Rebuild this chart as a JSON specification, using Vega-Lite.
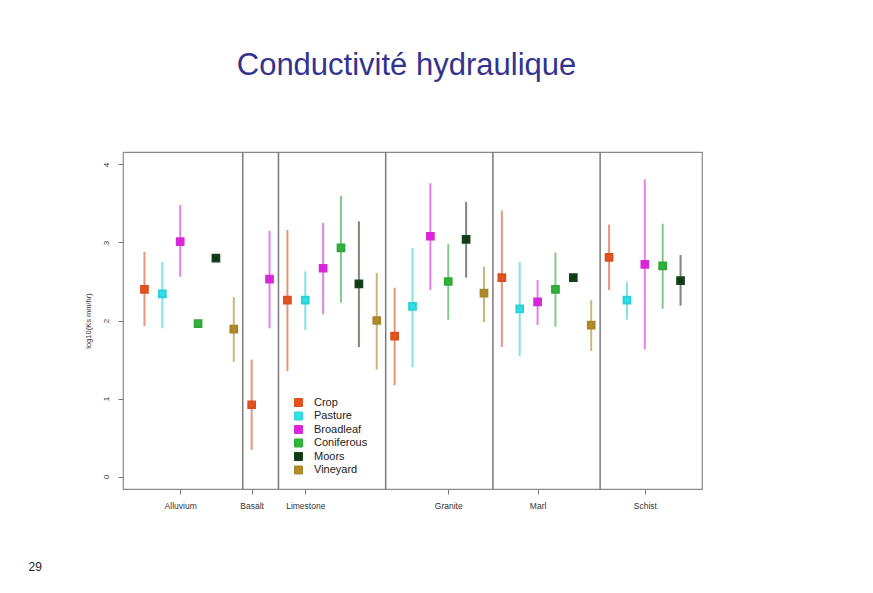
{
  "$schema": "https://vega.github.io/schema/vega-lite/v6.json",
  "width": 579,
  "height": 337,
  "autosize": {"type": "none"},
  "padding": {"left": 123, "top": 152, "right": 171, "bottom": 104},
  "background": "white",
  "title": {"text": "Conductivité hydraulique", "font": "Liberation Sans", "fontSize": 31, "fontWeight": "normal", "color": "#33338f", "anchor": "middle", "dx": -6, "offset": 69},
  "config": {"view": {"stroke": "#8a8a8a", "strokeWidth": 1.2}, "font": "Liberation Sans"},
  "datasets": {
    "pts": [
      {"geology": "Alluvium", "cover": "Crop", "pos": 1, "mean": 2.40, "lo": 1.93, "hi": 2.88},
      {"geology": "Alluvium", "cover": "Pasture", "pos": 2, "mean": 2.34, "lo": 1.90, "hi": 2.75},
      {"geology": "Alluvium", "cover": "Broadleaf", "pos": 3, "mean": 3.01, "lo": 2.56, "hi": 3.48},
      {"geology": "Alluvium", "cover": "Coniferous", "pos": 4, "mean": 1.96, "lo": null, "hi": null},
      {"geology": "Alluvium", "cover": "Moors", "pos": 5, "mean": 2.80, "lo": null, "hi": null},
      {"geology": "Alluvium", "cover": "Vineyard", "pos": 6, "mean": 1.89, "lo": 1.47, "hi": 2.30},
      {"geology": "Basalt", "cover": "Crop", "pos": 7, "mean": 0.92, "lo": 0.34, "hi": 1.50},
      {"geology": "Basalt", "cover": "Broadleaf", "pos": 8, "mean": 2.53, "lo": 1.90, "hi": 3.15},
      {"geology": "Limestone", "cover": "Crop", "pos": 9, "mean": 2.26, "lo": 1.35, "hi": 3.16},
      {"geology": "Limestone", "cover": "Pasture", "pos": 10, "mean": 2.26, "lo": 1.88, "hi": 2.63},
      {"geology": "Limestone", "cover": "Broadleaf", "pos": 11, "mean": 2.67, "lo": 2.08, "hi": 3.25},
      {"geology": "Limestone", "cover": "Coniferous", "pos": 12, "mean": 2.93, "lo": 2.23, "hi": 3.60},
      {"geology": "Limestone", "cover": "Moors", "pos": 13, "mean": 2.47, "lo": 1.66, "hi": 3.27},
      {"geology": "Limestone", "cover": "Vineyard", "pos": 14, "mean": 2.00, "lo": 1.37, "hi": 2.61},
      {"geology": "Granite", "cover": "Crop", "pos": 15, "mean": 1.80, "lo": 1.17, "hi": 2.42},
      {"geology": "Granite", "cover": "Pasture", "pos": 16, "mean": 2.18, "lo": 1.40, "hi": 2.93},
      {"geology": "Granite", "cover": "Broadleaf", "pos": 17, "mean": 3.08, "lo": 2.39, "hi": 3.76},
      {"geology": "Granite", "cover": "Coniferous", "pos": 18, "mean": 2.50, "lo": 2.01, "hi": 2.98},
      {"geology": "Granite", "cover": "Moors", "pos": 19, "mean": 3.04, "lo": 2.55, "hi": 3.52},
      {"geology": "Granite", "cover": "Vineyard", "pos": 20, "mean": 2.35, "lo": 1.98, "hi": 2.69},
      {"geology": "Marl", "cover": "Crop", "pos": 21, "mean": 2.55, "lo": 1.66, "hi": 3.41},
      {"geology": "Marl", "cover": "Pasture", "pos": 22, "mean": 2.15, "lo": 1.54, "hi": 2.75},
      {"geology": "Marl", "cover": "Broadleaf", "pos": 23, "mean": 2.24, "lo": 1.94, "hi": 2.52},
      {"geology": "Marl", "cover": "Coniferous", "pos": 24, "mean": 2.40, "lo": 1.92, "hi": 2.87},
      {"geology": "Marl", "cover": "Moors", "pos": 25, "mean": 2.55, "lo": null, "hi": null},
      {"geology": "Marl", "cover": "Vineyard", "pos": 26, "mean": 1.94, "lo": 1.61, "hi": 2.26},
      {"geology": "Schist", "cover": "Crop", "pos": 27, "mean": 2.81, "lo": 2.39, "hi": 3.23},
      {"geology": "Schist", "cover": "Pasture", "pos": 28, "mean": 2.26, "lo": 2.01, "hi": 2.49},
      {"geology": "Schist", "cover": "Broadleaf", "pos": 29, "mean": 2.72, "lo": 1.63, "hi": 3.81},
      {"geology": "Schist", "cover": "Coniferous", "pos": 30, "mean": 2.70, "lo": 2.15, "hi": 3.24},
      {"geology": "Schist", "cover": "Moors", "pos": 31, "mean": 2.51, "lo": 2.19, "hi": 2.84}
    ],
    "dividers": [{"pos": 6.5}, {"pos": 8.5}, {"pos": 14.5}, {"pos": 20.5}, {"pos": 26.5}]
  },
  "encoding": {
    "x": {
      "field": "pos", "type": "quantitative",
      "scale": {"domain": [-0.2, 32.2], "nice": false, "zero": false},
      "axis": {
        "values": [3, 7, 10, 18, 23, 29],
        "labelExpr": "datum.value == 3 ? 'Alluvium' : datum.value == 7 ? 'Basalt' : datum.value == 10 ? 'Limestone' : datum.value == 18 ? 'Granite' : datum.value == 23 ? 'Marl' : 'Schist'",
        "grid": false, "domain": false, "tickColor": "#777", "tickSize": 5,
        "labelFontSize": 8.5, "labelColor": "#333", "labelPadding": 7,
        "title": "29", "titleFontSize": 12, "titleFontWeight": "normal", "titleColor": "#222",
        "titleX": -95, "titleY": 77, "titleAlign": "left", "titleBaseline": "middle", "titleAngle": 0
      }
    }
  },
  "layer": [
    {
      "data": {"name": "dividers"},
      "mark": {"type": "rule", "color": "#7a7a7a", "strokeWidth": 1.5},
      "encoding": {}
    },
    {
      "data": {"name": "pts"},
      "transform": [{"filter": "isValid(datum.lo)"}],
      "mark": {"type": "rule", "strokeWidth": 2, "strokeOpacity": 0.6},
      "encoding": {
        "y": {"field": "lo", "type": "quantitative"},
        "y2": {"field": "hi"},
        "stroke": {"field": "cover", "type": "nominal",
          "scale": {"domain": ["Crop", "Pasture", "Broadleaf", "Coniferous", "Moors", "Vineyard"],
                    "range": ["#d8501e", "#2cd0d6", "#d42cd4", "#2ea83a", "#173f1b", "#a8862a"]}}
      }
    },
    {
      "data": {"name": "pts"},
      "mark": {"type": "point", "shape": "square", "filled": true, "size": 45, "opacity": 1},
      "encoding": {
        "y": {
          "field": "mean", "type": "quantitative",
          "scale": {"domain": [-0.16, 4.16], "nice": false, "zero": false},
          "axis": {"values": [0, 1, 2, 3, 4], "format": "d", "grid": false, "domain": false, "tickColor": "#777", "tickSize": 5,
                   "labelAngle": -90, "labelAlign": "center", "labelBaseline": "middle", "labelFontSize": 8, "labelColor": "#333", "labelPadding": 12,
                   "title": "log10(Ks mm/hr)", "titleFontSize": 7.5, "titleFontWeight": "normal", "titleColor": "#333", "titlePadding": 10}
        },
        "color": {"field": "cover", "type": "nominal",
          "scale": {"domain": ["Crop", "Pasture", "Broadleaf", "Coniferous", "Moors", "Vineyard"],
                    "range": ["#e8501e", "#2fe0e4", "#e020e0", "#30b43c", "#0f3a14", "#b08a2a"]},
          "legend": {"orient": "none", "legendX": 170, "legendY": 245, "title": null,
                     "symbolType": "square", "symbolSize": 64, "symbolOpacity": 1, "symbolStrokeWidth": 1,
                     "labelFontSize": 11, "labelColor": "#222", "rowPadding": 0.5, "labelOffset": 10,
                     "padding": 0}},
        "stroke": {"field": "cover", "type": "nominal"}
      }
    }
  ]
}
